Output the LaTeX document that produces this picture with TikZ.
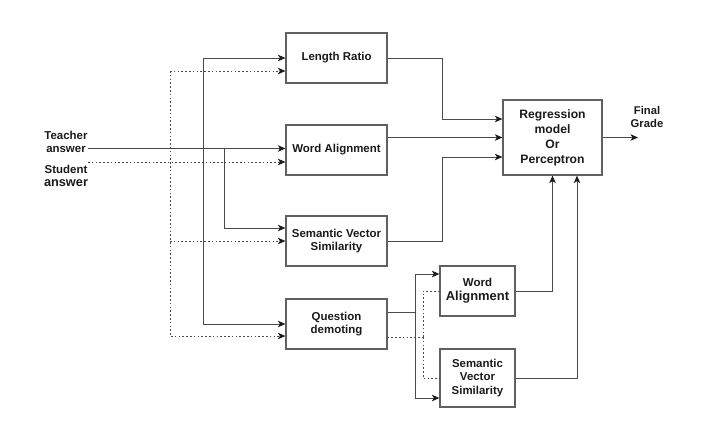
\documentclass[tikz,border=0pt]{standalone}
\usepackage{fontspec}
\setmainfont{Liberation Sans}
\usetikzlibrary{arrows.meta,calc}
\definecolor{lngray}{HTML}{4A4A4A}
\definecolor{boxgray}{HTML}{606060}
\definecolor{txt}{HTML}{1A1A1A}
\definecolor{arrcol}{HTML}{1A1A1A}
\begin{document}
\begin{tikzpicture}[x=1bp,y=-1bp,
  box/.style={draw=boxgray,line width=1.2bp,rectangle,inner sep=0pt,align=center,
    font=\fontsize{11.5}{13.3}\selectfont\bfseries,text=txt},
  ln/.style={draw=lngray,line width=1bp},
  dl/.style={draw=lngray,line width=1bp,dash pattern=on 1.6bp off 2.2bp},
  arr/.style={-{Stealth[length=7.5bp,width=6.5bp,inset=2bp,color=arrcol]}},
  lbl/.style={align=center,inner sep=0pt,text=txt,font=\fontsize{11.5}{13}\selectfont\bfseries}]
\useasboundingbox (0,0) rectangle (719,423);
% boxes
\node[box,minimum width=101bp,minimum height=50bp] (LR) at (336.5,58) {Length Ratio};
\node[box,minimum width=101bp,minimum height=50bp] (WA) at (336.5,150) {Word Alignment};
\node[box,minimum width=101bp,minimum height=50bp] (SVS) at (336.5,241) {Semantic Vector\\Similarity};
\node[box,minimum width=101bp,minimum height=50bp] (QD) at (336.5,324) {Question\\demoting};
\node[box,minimum width=99bp,minimum height=75bp,font=\fontsize{12.2}{15}\selectfont\bfseries] (REG) at (552.5,137.5) {Regression\\model\\Or\\Perceptron};
\node[box,minimum width=75bp,minimum height=50bp] (WA2) at (477.5,291) {Word\\[0.6bp]{\fontsize{13}{14}\selectfont Alignment}};
\node[box,minimum width=75bp,minimum height=58bp] (SVS2) at (477.5,378) {Semantic\\Vector\\Similarity};
% labels
\node[lbl] (TA) at (66,141.5) {Teacher\\answer};
\node[lbl] (SA) at (66,176) {Student\\{\fontsize{12.8}{13}\selectfont answer}};
\node[lbl,font=\fontsize{11.3}{13}\selectfont\bfseries] (FG) at (647,116.5) {Final\\Grade};
% coordinates
\coordinate (t0) at (88,148.5);
\coordinate (s0) at (88,162);
\coordinate (b1) at (224,148.5);
\coordinate (bT) at (203,58);
\coordinate (dT) at (170,71);
\coordinate (q1) at (415,312);
\coordinate (q2) at (423,337);
\coordinate (fg) at (638,137.5);
% inputs
\draw[ln,arr] (t0) -- (WA.west |- t0);
\draw[dl,arr] (s0) -- (WA.west |- s0);
\draw[ln,arr] (b1) |- ($(SVS.west)+(0,-13)$);
\draw[ln,arr] (bT) -- (LR.west |- bT);
\draw[ln,arr] (bT) |- (QD.west);
\draw[dl,arr] (dT) -- (LR.west |- dT);
\draw[dl,arr] (dT) |- ($(QD.west)+(0,12)$);
\draw[dl,arr] (dT |- SVS.west) -- (SVS.west);
% outputs to regression
\draw[ln,arr] (LR.east) -| ($(REG.west)+(-60,-18.5)$) -- ($(REG.west)+(0,-18.5)$);
\draw[ln,arr] (WA.east |- REG.west) -- (REG.west);
\draw[ln,arr] (SVS.east) -| ($(REG.west)+(-60,19.5)$) -- ($(REG.west)+(0,19.5)$);
% question demoting branch
\draw[ln] (q1 -| QD.east) -- (q1);
\draw[ln,arr] (q1) |- ($(WA2.west)+(0,-17)$);
\draw[ln,arr] (q1) |- ($(SVS2.west)+(0,20)$);
\draw[dl] (q2 -| QD.east) -- (q2);
\draw[dl] (q2) |- (WA2.west);
\draw[dl] (q2) |- (SVS2.west);
\draw[ln,arr] (WA2.east) -| (REG.south);
\draw[ln,arr] (SVS2.east) -| ($(REG.south)+(24.5,0)$);
\draw[ln,arr] (REG.east) -- (fg);
\end{tikzpicture}
\end{document}
